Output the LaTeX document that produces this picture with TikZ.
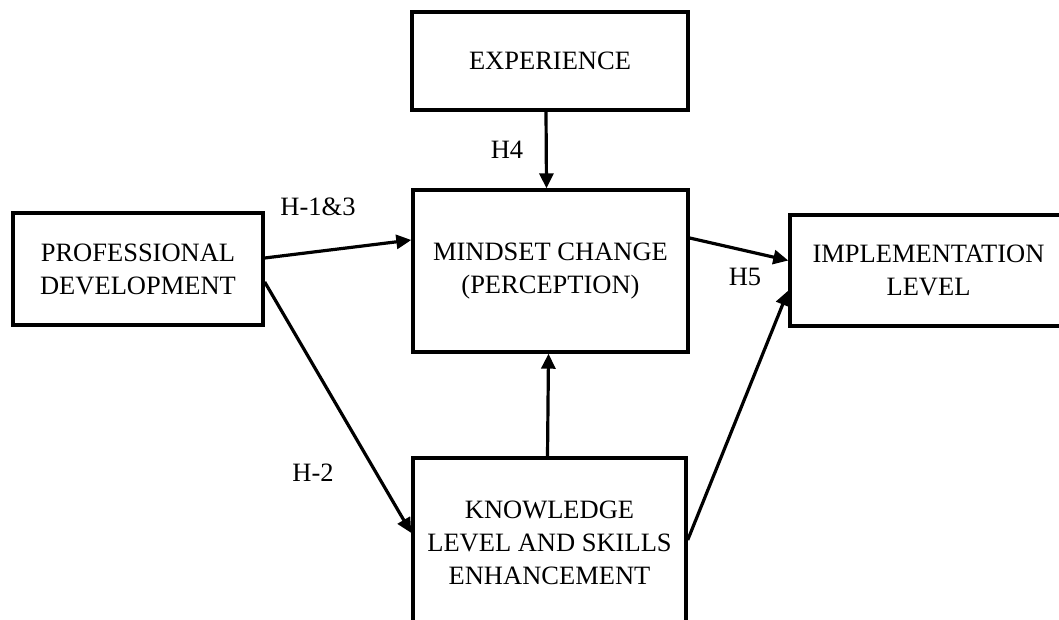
\documentclass[tikz,border=0pt]{standalone}
\usepackage{fontspec}
\setmainfont{Liberation Serif}
\usetikzlibrary{arrows.meta}
\begin{document}
\begin{tikzpicture}[x=1pt,y=-1pt,
  box/.style={draw=black,line width=3.4pt,inner sep=0pt,align=center,
    font=\fontsize{26.5}{33}\selectfont},
  conn/.style={line width=3.2pt,-{Triangle[length=15pt,width=14pt]}},
  lbl/.style={inner sep=0pt,font=\fontsize{26.5}{33}\selectfont}]
\useasboundingbox (0,0) rectangle (1059,620);
\fill[white] (0,0) rectangle (1059,620);
\node[box,minimum width=276pt,minimum height=98pt] (exp) at (550,61) {EXPERIENCE};
\node[box,minimum width=250pt,minimum height=112pt] (pd) at (138,269) {PROFESSIONAL\\DEVELOPMENT};
\node[box,minimum width=275pt,minimum height=162pt] (mind) at (550.5,271) {MINDSET CHANGE\\(PERCEPTION)};
\node[box,minimum width=277pt,minimum height=111pt] (impl) at (928.5,270.5) {IMPLEMENTATION\\LEVEL};
\node[box,minimum width=273pt,minimum height=170pt] (know) at (549.5,543) {KNOWLEDGE\\LEVEL AND SKILLS\\ENHANCEMENT};
\draw[conn] ([xshift=-4pt]exp.south) -- ([xshift=-4pt]mind.north);
\draw[conn] ([xshift=-2pt]know.north) -- ([xshift=-2pt]mind.south);
\draw[conn] ([yshift=11pt]pd.east) -- ([yshift=31pt]mind.west);
\draw[conn] ([yshift=-13pt]pd.east) -- ([yshift=10pt]know.west);
\draw[conn] ([yshift=33pt]mind.east) -- ([yshift=10pt]impl.west);
\draw[conn] ([yshift=3pt]know.east) -- ([yshift=-20pt]impl.west);
\node[lbl] (h4) at (507,150) {H4};
\node[lbl] (h13) at (318,207) {H-1\&3};
\node[lbl] (h5) at (745,277) {H5};
\node[lbl] (h2) at (313,473) {H-2};
\end{tikzpicture}
\end{document}
